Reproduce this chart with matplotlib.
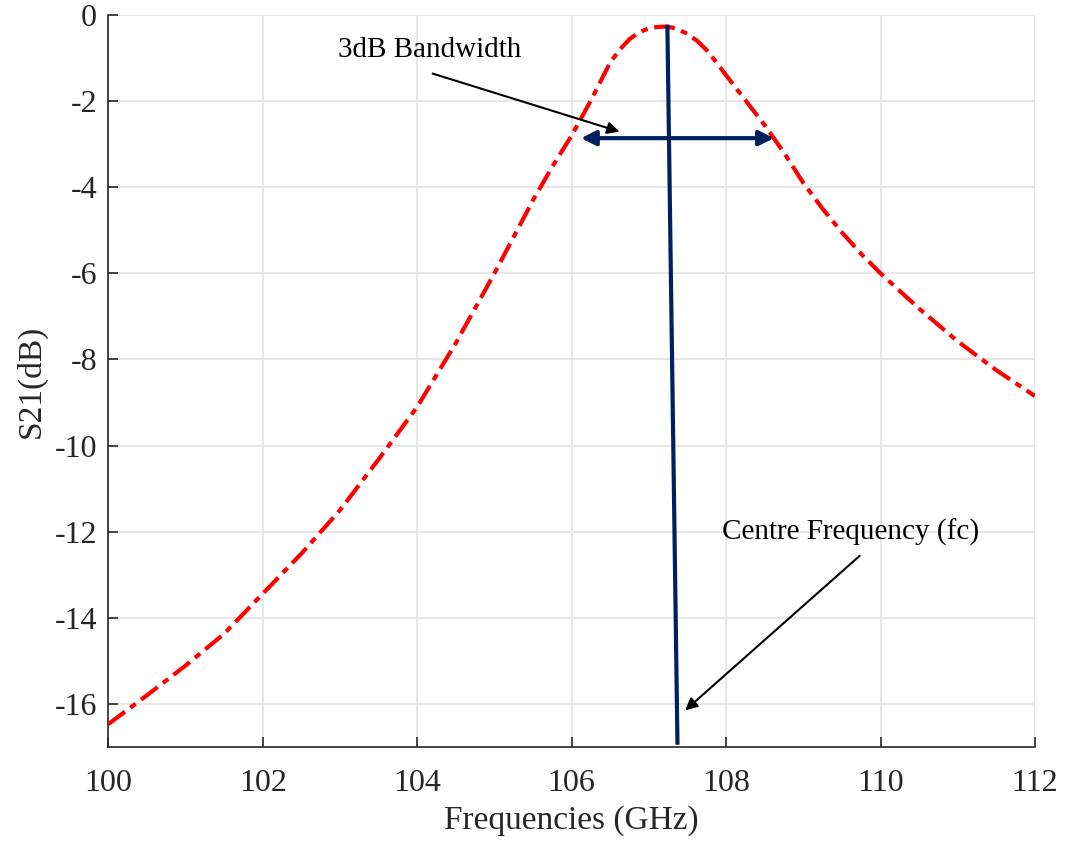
import matplotlib.pyplot as plt

# S21 response
freq = [100, 100.5, 101, 101.5, 102, 102.5, 103, 103.5, 104, 104.5, 105, 105.25,
        105.5, 105.75, 106, 106.25, 106.5, 106.625, 106.75, 106.875, 107, 107.1,
        107.2, 107.3, 107.4, 107.5, 107.625, 107.75, 107.875, 108, 108.25, 108.5,
        108.75, 109, 109.25, 109.5, 109.75, 110, 110.5, 111, 111.5, 112]
s21 = [-16.47, -15.80, -15.11, -14.37, -13.44, -12.51, -11.50, -10.32, -9.10, -7.62,
       -6.00, -5.15, -4.30, -3.52, -2.80, -1.98, -1.10, -0.80, -0.56, -0.40, -0.31,
       -0.28, -0.27, -0.29, -0.35, -0.44, -0.60, -0.82, -1.10, -1.40, -1.98, -2.56,
       -3.20, -3.90, -4.50, -5.05, -5.55, -6.00, -6.82, -7.58, -8.25, -8.85]

# centre frequency marker and 3dB bandwidth span
fc_x = [107.24, 107.37]
fc_y = [-0.27, -16.9]
bw_left, bw_right, bw_level = 106.12, 108.62, -2.86

navy = '#002060'
txt = '#262626'

plt.rcParams['font.family'] = ['Liberation Serif', 'DejaVu Serif']
plt.rcParams['axes.unicode_minus'] = False
fig = plt.figure(figsize=(10.67, 8.43), dpi=100)
ax = fig.add_axes([0.1015, 0.1139, 0.8685, 0.8683])

ax.plot(freq, s21, color='red', lw=3, linestyle=(0, (5, 1.6, 1.6, 1.6)), zorder=3)
ax.plot(fc_x, fc_y, color=navy, lw=3, zorder=4)
ax.annotate('', xy=(bw_left, bw_level), xytext=(bw_right, bw_level),
            arrowprops=dict(arrowstyle='<|-|>', color=navy, lw=3,
                            mutation_scale=22, shrinkA=0, shrinkB=0), zorder=4)

# annotations
ax.text(104.16, -0.81, '3dB Bandwidth', fontsize=21, color='black', ha='center', va='center')
ax.annotate('', xy=(106.62, -2.71), xytext=(104.2, -1.36),
            arrowprops=dict(arrowstyle='-|>', color='black', lw=1.5,
                            mutation_scale=18, shrinkA=0, shrinkB=0))
ax.text(109.61, -12.02, 'Centre Frequency (fc)', fontsize=21, color='black', ha='center', va='center')
ax.annotate('', xy=(107.47, -16.15), xytext=(109.73, -12.56),
            arrowprops=dict(arrowstyle='-|>', color='black', lw=1.5,
                            mutation_scale=18, shrinkA=0, shrinkB=0))

ax.set_xlim(100, 112)
ax.set_ylim(-17, 0)
ax.set_xticks(range(100, 113, 2))
ax.set_yticks(range(-16, 1, 2))
ax.grid(True, color='#e3e3e3', lw=1.2)
ax.set_axisbelow(True)
for s in ['top', 'right']:
    ax.spines[s].set_visible(False)
for s in ['left', 'bottom']:
    ax.spines[s].set_color(txt)
    ax.spines[s].set_linewidth(1.2)
ax.tick_params(direction='in', length=7, width=1.2, colors=txt, labelsize=23)
ax.tick_params(axis='y', pad=8)
ax.tick_params(axis='x', pad=16)
ax.set_xlabel('Frequencies (GHz)', fontsize=24, color=txt, labelpad=5)
ax.set_ylabel('S21(dB)', fontsize=24, color=txt, labelpad=6)

fig.savefig('out.png', dpi=100)
